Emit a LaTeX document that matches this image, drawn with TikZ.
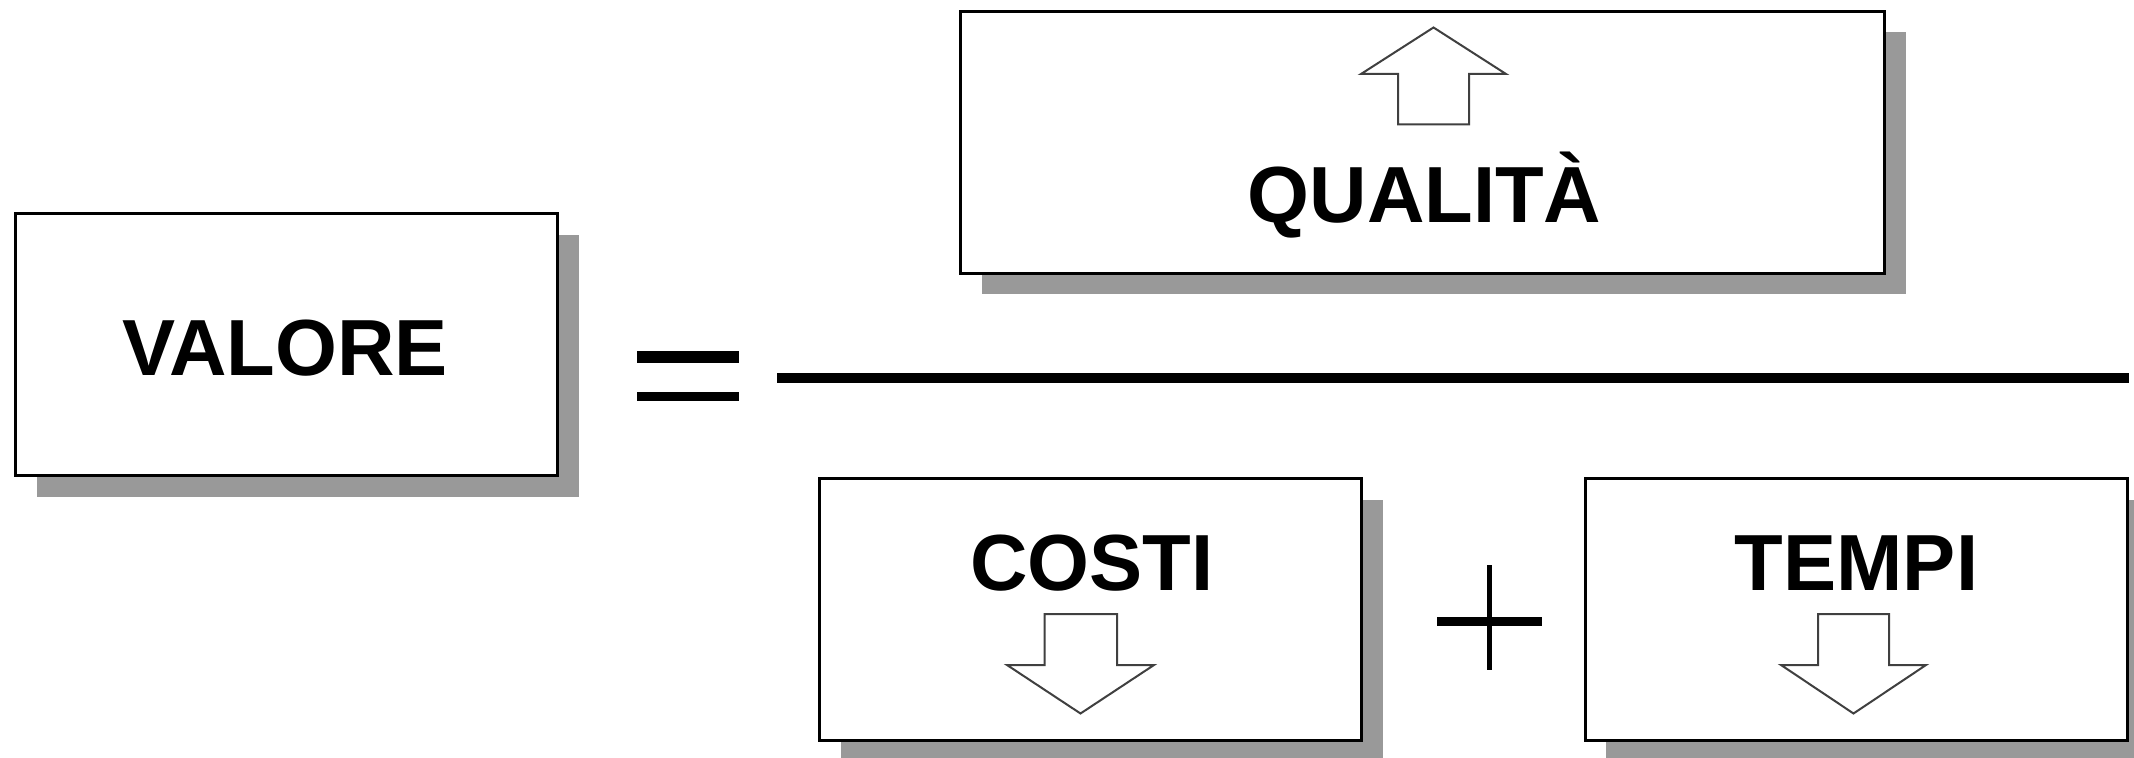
\documentclass[tikz,border=0pt]{standalone}
\usepackage{fontspec}
\setmainfont{Liberation Sans}
\usetikzlibrary{positioning}
\usetikzlibrary{shadows}

\begin{document}
\begin{tikzpicture}[x=0.5pt,y=-0.5pt,
  box/.style={draw=black,line width=1.5pt,fill=white,inner sep=0pt,minimum width=271pt,minimum height=131pt,
    drop shadow={shadow xshift=10.5pt,shadow yshift=-10.5pt,fill=black!40,opacity=1}},
  lbl/.style={font=\fontsize{39.8}{46}\selectfont\bfseries,inner sep=0pt},
  blockarrow/.style={draw=black!75,line width=1pt,fill=white,line join=miter}]
\useasboundingbox (0,0) rectangle (2134,758);

\node[box] (valore) at (286.8,345) {};
\node[box,minimum width=462pt] (qualita) at (1422.5,142.5) {};
\node[box] (costi) at (1090.8,609.7) {};
\node[box] (tempi) at (1856.3,609.7) {};

\node[lbl,anchor=base] (tvalore) at (285,376) {VALORE};
\node[lbl,anchor=base] (tqualita) at (1424.5,222.7) {QUALITÀ};
\node[lbl,anchor=base] (tcosti) at (1092,590.7) {COSTI};
\node[lbl,anchor=base] (ttempi) at (1856.5,590.7) {TEMPI};

% arrows
\draw[blockarrow] (1433.5,27.5) -- (1506,74) -- (1469,74) -- (1469,124.5) -- (1398,124.5) -- (1398,74) -- (1361,74) -- cycle;
\draw[blockarrow] (1080.5,713.5) -- (1007,665) -- (1044.5,665) -- (1044.5,614) -- (1117,614) -- (1117,665) -- (1154,665) -- cycle;
\draw[blockarrow] (1853.5,713.5) -- (1781,665) -- (1818,665) -- (1818,614) -- (1889,614) -- (1889,665) -- (1926,665) -- cycle;

% equals, fraction bar, plus
\fill (637,351) rectangle (739,363.5);
\fill (637,392) rectangle (739,401.5);
\fill (777,372.7) rectangle (2129,382.7);
\fill (1437,616.5) rectangle (1541.5,626);
\fill (1487,565) rectangle (1491.5,670);

\end{tikzpicture}
\end{document}
